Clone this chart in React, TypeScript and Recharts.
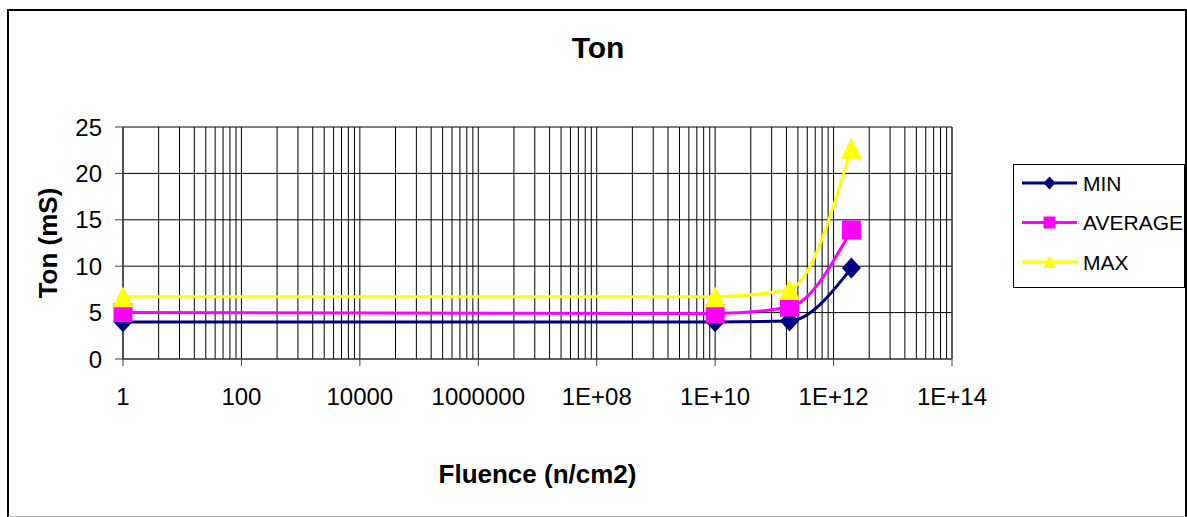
import {
  LineChart,
  Line,
  XAxis,
  YAxis,
  CartesianGrid,
  Legend,
  ReferenceArea,
  ReferenceLine,
  Customized,
} from "recharts";

const FONT = "'Liberation Sans', Arial, sans-serif";

const FLUENCE = [1, 1e10, 1.8e11, 2e12];
const MIN = [4, 4, 4.1, 9.8];
const AVERAGE = [5, 4.9, 5.6, 13.9];
const MAX = [6.7, 6.7, 7.5, 22.7];

const X_TICKS = [1, 1e2, 1e4, 1e6, 1e8, 1e10, 1e12, 1e14];
const Y_TICKS = [0, 5, 10, 15, 20, 25];
// Excel log axis with base 100 puts its minor lines on k^2 inside each step
const MINOR_STEPS = [4, 9, 16, 25, 36, 49, 64, 81];

const GRID_X = X_TICKS.flatMap((t, i) =>
  i < X_TICKS.length - 1 ? [t, ...MINOR_STEPS.map((m) => t * m)] : [t]
);

const data = FLUENCE.map((f, i) => ({
  fluence: f,
  min: MIN[i],
  avg: AVERAGE[i],
  max: MAX[i],
}));

const SERIES = [
  { key: "min", name: "MIN", color: "#000080", shape: "diamond" },
  { key: "avg", name: "AVERAGE", color: "#FF00FF", shape: "square" },
  { key: "max", name: "MAX", color: "#FFFF00", shape: "triangle" },
];

const fmtX = (v: number) => {
  const p = Math.round(Math.log10(v));
  return p >= 8 ? `1E+${String(p).padStart(2, "0")}` : String(v);
};

const Marker = ({ cx, cy, shape, color, s }: any) => {
  if (cx == null || cy == null) return null;
  if (shape === "diamond")
    return (
      <polygon
        points={`${cx},${cy - s * 1.1} ${cx + s},${cy} ${cx},${cy + s * 1.1} ${cx - s},${cy}`}
        fill={color}
      />
    );
  if (shape === "square")
    return <rect x={cx - s} y={cy - s} width={s * 2} height={s * 2} fill={color} />;
  return (
    <polygon
      points={`${cx},${cy - s} ${cx + s},${cy + s} ${cx - s},${cy + s}`}
      fill={color}
    />
  );
};

const DOT_SIZE: Record<string, number> = { diamond: 9.5, square: 9.5, triangle: 10.5 };

const YLabel = (props: any) => {
  const vb = props.viewBox || { y: 127, height: 232 };
  const cy = vb.y + vb.height / 2;
  return (
    <text
      x={57}
      y={cy}
      transform={`rotate(-90 57 ${cy})`}
      textAnchor="middle"
      fontSize={26}
      fontWeight="bold"
      fontFamily={FONT}
      fill="#000"
    >
      Ton (mS)
    </text>
  );
};

const XLabel = (props: any) => {
  const vb = props.viewBox || { x: 123, width: 829 };
  return (
    <text
      x={vb.x + vb.width / 2}
      y={483}
      textAnchor="middle"
      fontSize={26}
      fontWeight="bold"
      fontFamily={FONT}
      fill="#000"
    >
      Fluence (n/cm2)
    </text>
  );
};

const Title = () => (
  <text
    x={598}
    y={58}
    textAnchor="middle"
    fontSize={30}
    fontWeight="bold"
    fontFamily={FONT}
    fill="#000"
  >
    Ton
  </text>
);

const LegendBox = () => (
  <div
    style={{
      width: 172,
      height: 124,
      boxSizing: "border-box",
      border: "1px solid #000",
      background: "#fff",
    }}
  >
    <svg width={170} height={122} style={{ display: "block" }}>
      {SERIES.map((s, i) => {
        const y = 18 + i * 39.5;
        return (
          <g key={s.key}>
            <line x1={8} x2={63} y1={y} y2={y} stroke={s.color} strokeWidth={3} />
            <Marker cx={35.5} cy={y} shape={s.shape} color={s.color} s={6} />
            <text x={69} y={y + 7.5} fontSize={21} fontFamily={FONT} fill="#000">
              {s.name}
            </text>
          </g>
        );
      })}
    </svg>
  </div>
);

export default function App() {
  return (
    <div
      style={{
        position: "absolute",
        left: 0,
        top: 0,
        width: 1187,
        height: 517,
        background: "#fff",
      }}
    >
      <div
        style={{
          position: "absolute",
          left: 7,
          top: 9,
          width: 1180,
          height: 508,
          boxSizing: "border-box",
          borderLeft: "2px solid #000",
          borderTop: "2px solid #000",
          borderRight: "2px solid #000",
          borderBottom: "1px solid #b0b0b0",
        }}
      />
      <div style={{ position: "absolute", left: 0, top: 0 }}>
        <LineChart
          width={1187}
          height={517}
          data={data}
          margin={{ top: 127, right: 235, bottom: 98, left: 0 }}
        >
          <CartesianGrid stroke="#000" vertical={false} />
          {GRID_X.map((v) => (
            <ReferenceLine key={v} x={v} stroke="#000" strokeWidth={1} />
          ))}
          <ReferenceArea
            x1={1}
            x2={1e14}
            y1={0}
            y2={25}
            fill="none"
            stroke="#808080"
            strokeWidth={1}
          />
          <XAxis
            dataKey="fluence"
            type="number"
            scale="log"
            domain={[1, 1e14]}
            ticks={X_TICKS}
            interval={0}
            tickFormatter={fmtX}
            tick={{ fontSize: 24, fill: "#000", fontFamily: FONT }}
            tickSize={7}
            tickMargin={22}
            axisLine={{ stroke: "#404040" }}
            tickLine={{ stroke: "#404040" }}
            height={60}
            label={<XLabel />}
          />
          <YAxis
            type="number"
            domain={[0, 25]}
            ticks={Y_TICKS}
            interval={0}
            tick={{ fontSize: 24, fill: "#000", fontFamily: FONT }}
            tickSize={8}
            tickMargin={13}
            axisLine={{ stroke: "#404040" }}
            tickLine={{ stroke: "#404040" }}
            width={123}
            label={<YLabel />}
          />
          {SERIES.map((s) => (
            <Line
              key={s.key}
              type="monotone"
              dataKey={s.key}
              name={s.name}
              stroke={s.color}
              strokeWidth={3}
              isAnimationActive={false}
              activeDot={false}
              dot={(p: any) => (
                <Marker
                  key={`${s.key}-${p.index}`}
                  cx={p.cx}
                  cy={p.cy}
                  shape={s.shape}
                  color={s.color}
                  s={DOT_SIZE[s.shape]}
                />
              )}
            />
          ))}
          <Legend
            layout="horizontal"
            verticalAlign="middle"
            align="center"
            content={<LegendBox />}
            wrapperStyle={{ left: 1013, top: 164, width: 172, height: 124 }}
          />
          <Customized component={Title} />
        </LineChart>
      </div>
    </div>
  );
}
